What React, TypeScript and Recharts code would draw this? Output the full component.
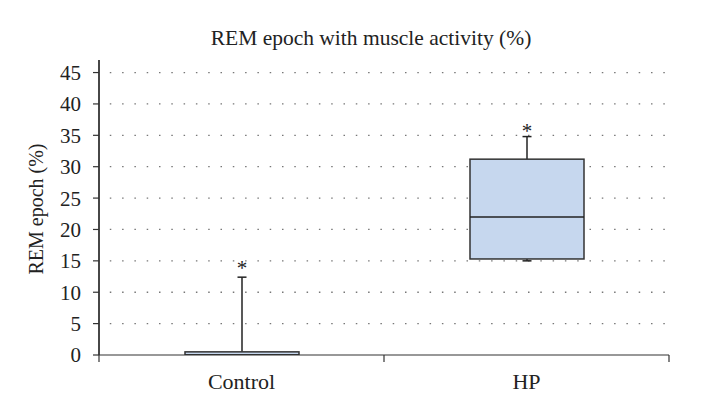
import React from "react";
import { ComposedChart, Bar, XAxis, YAxis, CartesianGrid } from "recharts";

const categories = ["Control", "HP"];
const minVals = [0, 15];
const q1Vals = [0, 15.3];
const medianVals = [0, 22];
const q3Vals = [0.5, 31.2];
const maxVals = [12.4, 34.8];
const outlierVals = [14.3, 36.2];
const yTicks = [0, 5, 10, 15, 20, 25, 30, 35, 40, 45];

const data = categories.map((name, i) => ({
  name,
  min: minVals[i],
  q1: q1Vals[i],
  median: medianVals[i],
  q3: q3Vals[i],
  max: maxVals[i],
  outlier: outlierVals[i],
  range: [minVals[i], maxVals[i]],
}));

const W = 706;
const H = 408;
const MARGIN = { top: 60, right: 37, bottom: 23, left: 39 };
const Y_AXIS_W = 60;
const BAND = (W - MARGIN.left - MARGIN.right - Y_AXIS_W) / categories.length;
const FONT = "'Liberation Serif', 'DejaVu Serif', serif";

// box drawn inside the [min, max] range bar
const BoxShape = (props: any) => {
  const { x, y, width, height, payload } = props;
  const lo = payload.min;
  const hi = payload.max;
  const bottom = y + height;
  const pix = (v: number) => bottom - ((v - lo) / (hi - lo)) * height;
  const cx = x + width / 2;
  const cap = 4.5;
  return (
    <g>
      <line x1={cx} x2={cx} y1={pix(payload.q3)} y2={pix(payload.max)} stroke="#222" strokeWidth={1.5} />
      <line x1={cx - cap} x2={cx + cap} y1={pix(payload.max)} y2={pix(payload.max)} stroke="#222" strokeWidth={1.5} />
      {payload.q1 > payload.min && (
        <>
          <line x1={cx} x2={cx} y1={pix(payload.min)} y2={pix(payload.q1)} stroke="#222" strokeWidth={1.5} />
          <line x1={cx - cap} x2={cx + cap} y1={pix(payload.min)} y2={pix(payload.min)} stroke="#222" strokeWidth={1.5} />
        </>
      )}
      <rect
        x={x}
        y={pix(payload.q3)}
        width={width}
        height={pix(payload.q1) - pix(payload.q3)}
        fill="#c6d7ee"
        stroke="#333"
        strokeWidth={1.5}
      />
      <line x1={x} x2={x + width} y1={pix(payload.median)} y2={pix(payload.median)} stroke="#222" strokeWidth={1.5} />
      <text x={cx} y={pix(payload.outlier) + 10} textAnchor="middle" fontFamily={FONT} fontSize={21} fill="#222">
        *
      </text>
    </g>
  );
};

const CategoryTick = (props: any) => {
  const { x, y, payload, index } = props;
  return (
    <g>
      {index === 0 && <line x1={x - BAND / 2} x2={x - BAND / 2} y1={y} y2={y + 7} stroke="#333" strokeWidth={1.2} />}
      <line x1={x + BAND / 2} x2={x + BAND / 2} y1={y} y2={y + 7} stroke="#333" strokeWidth={1.2} />
      <text x={x} y={y + 34} textAnchor="middle" fontFamily={FONT} fontSize={22} fill="#222">
        {payload.value}
      </text>
    </g>
  );
};

export default function App() {
  return (
    <div style={{ position: "absolute", left: 0, top: 0, width: W, height: H, background: "#fff" }}>
      <div
        style={{
          position: "absolute",
          left: 0,
          top: 26,
          width: 742,
          textAlign: "center",
          fontFamily: FONT,
          fontSize: 21.5,
          color: "#222",
        }}
      >
        REM epoch with muscle activity (%)
      </div>
      <div
        style={{
          position: "absolute",
          left: 36 - 100,
          top: 209 - 12,
          width: 200,
          height: 24,
          lineHeight: "24px",
          textAlign: "center",
          transform: "rotate(-90deg)",
          fontFamily: FONT,
          fontSize: 20,
          color: "#222",
        }}
      >
        REM epoch (%)
      </div>
      <ComposedChart width={W} height={H} data={data} margin={MARGIN}>
        <CartesianGrid
          horizontal
          vertical={false}
          horizontalValues={yTicks.slice(1)}
          stroke="#777"
          strokeWidth={1.3}
          strokeDasharray="0 10.8 1.5 0"
        />
        <XAxis
          dataKey="name"
          axisLine={{ stroke: "#333", strokeWidth: 1.2 }}
          tickLine={false}
          tickSize={0}
          tickMargin={0}
          height={30}
          tick={<CategoryTick />}
          interval={0}
        />
        <YAxis
          domain={[0, 47]}
          ticks={yTicks}
          width={Y_AXIS_W}
          axisLine={{ stroke: "#333", strokeWidth: 1.8 }}
          tickLine={{ stroke: "#333", strokeWidth: 1.2 }}
          tickSize={6}
          tickMargin={12}
          allowDataOverflow
          tick={{ fontFamily: FONT, fontSize: 21, fill: "#222" }}
        />
        <Bar dataKey="range" barSize={114} shape={<BoxShape />} isAnimationActive={false} />
      </ComposedChart>
    </div>
  );
}
